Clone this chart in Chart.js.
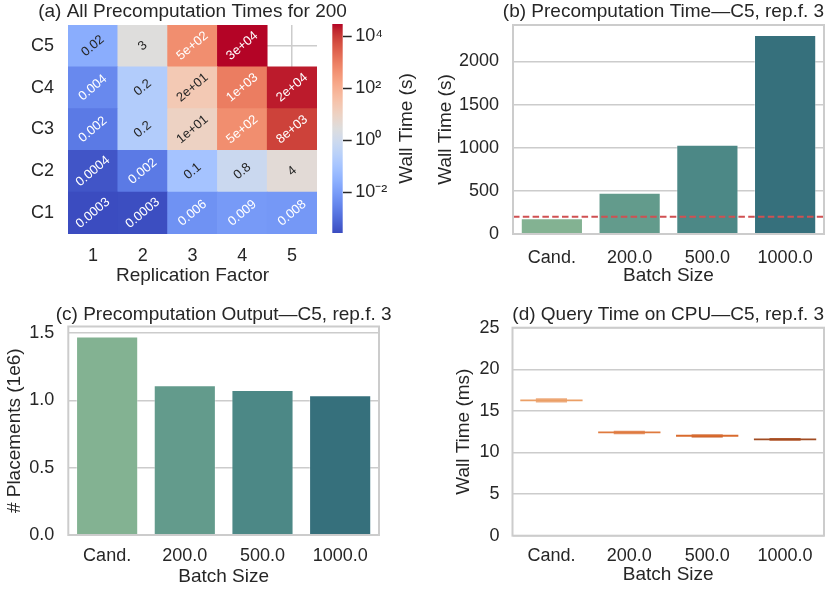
<!DOCTYPE html>
<html>
<head>
<meta charset="utf-8">
<title>Precomputation and query times</title>
<script src="https://cdn.jsdelivr.net/npm/chart.js@4.4.1/dist/chart.umd.min.js"></script>
<style>
  html, body { margin: 0; padding: 0; background: #fff; }
  #wrap { position: relative; width: 835px; height: 590px; overflow: hidden; }
  #wrap canvas { position: absolute; }
</style>
</head>
<body>
<div id="wrap">
  <canvas id="heat" width="360" height="290" style="left:0px;top:0px"></canvas>
  <canvas id="cbar" width="110" height="290" style="left:325px;top:0px"></canvas>
  <canvas id="precompTime" width="415" height="290" style="left:420px;top:0px"></canvas>
  <canvas id="precompOut" width="420" height="300" style="left:0px;top:290px"></canvas>
  <canvas id="queryTime" width="415" height="300" style="left:420px;top:290px"></canvas>
</div>
<script>
// (a) wall time in seconds, one row per config, one column per replication factor
const repFactors = ['1', '2', '3', '4', '5'];
const configs = ['C1', 'C2', 'C3', 'C4', 'C5'];
const timesC1 = [0.00028, 0.0003, 0.006, 0.009, 0.008];
const timesC2 = [0.0004, 0.002, 0.1, 0.8, 4];
const timesC3 = [0.002, 0.2, 10, 500, 8000];
const timesC4 = [0.004, 0.2, 20, 1000, 20000];
const timesC5 = [0.024, 3, 500, 29000, null];
const heatRows = [timesC1, timesC2, timesC3, timesC4, timesC5];
const cbarTicks = [1e-2, 1, 1e2, 1e4];

// (b)-(d) C5, rep.f. 3
const batchLabels = ['Cand.', '200.0', '500.0', '1000.0'];
const precompTime = [182, 478, 1035, 2308];
const precompLimit = 200;
const placements = [1.476, 1.113, 1.078, 1.038];
const queryLow = [16.02, 12.2, 11.8, 11.4];
const queryQ1 = [16.16, 12.31, 11.9, 11.46];
const queryQ3 = [16.38, 12.53, 12.12, 11.68];
const queryHigh = [16.52, 12.62, 12.15, 11.74];

// styles
const FONT = "'Liberation Sans', Arial, Helvetica, sans-serif";
const TXT = '#262626';
const GRID = '#cccccc';
const barColors = ['#83b292', '#639b8c', '#4c8886', '#36707c'];
const boxColors = ['#eb9f66', '#df7a3e', '#d96b2e', '#a14c23'];
const capColors = ['#eeae82', '#e4956a', '#c45a26', '#c0693f'];
const limitRed = '#d05052';

// coolwarm control points
const coolwarm = [
    [59, 76, 192], [68, 90, 204], [77, 104, 215], [87, 117, 225], [98, 130, 234],
    [108, 142, 241], [119, 154, 247], [130, 165, 251], [141, 176, 254], [152, 185, 255],
    [163, 194, 255], [174, 201, 253], [184, 208, 249], [194, 213, 244], [204, 217, 238],
    [213, 219, 230], [221, 221, 221], [229, 216, 209], [236, 211, 197], [241, 204, 185],
    [245, 196, 173], [247, 187, 160], [247, 177, 148], [247, 166, 135], [244, 154, 123],
    [241, 141, 111], [236, 127, 99], [229, 112, 88], [222, 96, 77], [213, 80, 66],
    [203, 62, 56], [192, 40, 47], [180, 4, 38]
];

Chart.defaults.font.family = FONT;
Chart.defaults.color = TXT;
Chart.defaults.animation = false;
Chart.defaults.responsive = false;
Chart.defaults.devicePixelRatio = 1;
Chart.defaults.plugins.legend.display = false;
Chart.defaults.plugins.tooltip.enabled = false;

// log colour scale from the data range
const allTimes = heatRows.flat().filter(v => v != null);
const vmin = Math.min(...allTimes);
const vmax = Math.max(...allTimes);
const lmin = Math.log10(vmin), lmax = Math.log10(vmax);

function cmap(t) {
    t = Math.max(0, Math.min(1, t));
    const pos = t * (coolwarm.length - 1);
    const i = Math.min(Math.floor(pos), coolwarm.length - 2);
    const f = pos - i;
    return coolwarm[i].map((c, k) => Math.round(c + (coolwarm[i + 1][k] - c) * f));
}
const rgbStr = c => `rgb(${c[0]},${c[1]},${c[2]})`;
const heatRGB = v => cmap((Math.log10(v) - lmin) / (lmax - lmin));

function luminance(c) {
    const lin = c.map(x => {
        x /= 255;
        return x <= 0.03928 ? x / 12.92 : Math.pow((x + 0.055) / 1.055, 2.4);
    });
    return 0.2126 * lin[0] + 0.7152 * lin[1] + 0.0722 * lin[2];
}

// like python '.1g'
function fmtG1(v) {
    const r = Number(v.toPrecision(1));
    const e = Math.floor(Math.log10(r) + 1e-12);
    if (e < -4 || e >= 1) {
        const m = Math.round(r / Math.pow(10, e));
        return m + 'e' + (e < 0 ? '-' : '+') + String(Math.abs(e)).padStart(2, '0');
    }
    return String(r);
}

const SUP = {'-': '\u207b', '0': '\u2070', '1': '\u00b9', '2': '\u00b2', '3': '\u00b3', '4': '\u2074',
    '5': '\u2075', '6': '\u2076', '7': '\u2077', '8': '\u2078', '9': '\u2079'};
const pow10Label = v => '10' + String(Math.round(Math.log10(v))).split('').map(ch => SUP[ch]).join('');

const fixWidth = w => scale => { scale.width = w; };
const fixHeight = h => scale => { scale.height = h; };

// plugins
const panelTitle = {
    id: 'panelTitle',
    afterDraw(chart, args, opts) {
        if (!opts.text) return;
        const {ctx, chartArea} = chart;
        ctx.save();
        ctx.font = '19px ' + FONT;
        ctx.fillStyle = TXT;
        ctx.textAlign = 'center';
        ctx.textBaseline = 'middle';
        ctx.fillText(opts.text, (chartArea.left + chartArea.right) / 2 + (opts.dx || 0), opts.y);
        ctx.restore();
    }
};

const frame = {
    id: 'frame',
    afterDatasetsDraw(chart) {
        const {ctx, chartArea: a} = chart;
        ctx.save();
        ctx.strokeStyle = GRID;
        ctx.lineWidth = 2;
        ctx.strokeRect(a.left, a.top, a.right - a.left, a.bottom - a.top);
        ctx.restore();
    }
};

const cellText = {
    id: 'cellText',
    afterDatasetsDraw(chart) {
        const {ctx} = chart;
        ctx.save();
        ctx.font = '13px ' + FONT;
        ctx.textAlign = 'center';
        ctx.textBaseline = 'middle';
        heatRows.forEach((row, r) => {
            chart.getDatasetMeta(r).data.forEach((bar, c) => {
                const v = row[c];
                if (v == null) return;
                const p = bar.getProps(['x', 'y', 'base'], true);
                ctx.save();
                ctx.translate(p.x, (p.y + p.base) / 2);
                ctx.rotate(-40 * Math.PI / 180);
                ctx.fillStyle = luminance(heatRGB(v)) > 0.408 ? TXT : '#ffffff';
                ctx.fillText(fmtG1(v), 0, 0);
                ctx.restore();
            });
        });
        ctx.restore();
    }
};

const cbarLabel = {
    id: 'cbarLabel',
    afterDraw(chart, args, opts) {
        const {ctx, chartArea: a} = chart;
        ctx.save();
        ctx.font = '19px ' + FONT;
        ctx.fillStyle = TXT;
        ctx.textAlign = 'center';
        ctx.textBaseline = 'middle';
        ctx.translate(opts.x, (a.top + a.bottom) / 2);
        ctx.rotate(-Math.PI / 2);
        ctx.fillText(opts.text, 0, 0);
        ctx.restore();
    }
};

function catAxis(height, tickPad, titlePad, text) {
    return {
        afterFit: fixHeight(height),
        grid: { display: false, drawTicks: false },
        border: { display: false },
        ticks: { padding: tickPad, font: { size: 18 }, maxRotation: 0, autoSkip: false },
        title: { display: true, text: text, font: { size: 19 }, padding: { top: 0, bottom: titlePad } }
    };
}

function valueAxis(width, tickPad, titlePad, text, max, step, fmt) {
    return {
        min: 0,
        max: max,
        afterFit: fixWidth(width),
        afterBuildTicks: scale => {
            const ticks = [];
            for (let v = 0; v <= max + 1e-9; v += step) ticks.push({ value: v });
            scale.ticks = ticks;
        },
        ticks: { padding: tickPad, font: { size: 18 }, callback: fmt },
        grid: { color: GRID, lineWidth: 1.5, drawTicks: false },
        border: { display: false },
        title: { display: true, text: text, font: { size: 19 }, padding: { top: titlePad, bottom: 0 } }
    };
}

// (a) heatmap
new Chart(document.getElementById('heat'), {
    type: 'bar',
    data: {
        labels: repFactors,
        datasets: heatRows.map((row, r) => ({
            label: configs[r],
            data: row.map(v => v == null ? null : [r, r + 1]),
            backgroundColor: row.map(v => v == null ? 'rgba(0,0,0,0)' : rgbStr(heatRGB(v))),
            barPercentage: 1,
            categoryPercentage: 1,
            grouped: false,
            borderWidth: 0
        }))
    },
    options: {
        layout: { padding: { left: 0, top: 25, right: 43, bottom: 0 } },
        scales: {
            x: {
                afterFit: fixHeight(56),
                grid: { color: GRID, lineWidth: 1.5, offset: false, drawTicks: false },
                border: { display: false },
                ticks: { padding: 11.5, font: { size: 18 } },
                title: { display: true, text: 'Replication Factor', font: { size: 19 }, padding: { top: 0, bottom: 2.8 } }
            },
            y: {
                min: 0,
                max: configs.length,
                afterFit: fixWidth(68),
                afterBuildTicks: scale => { scale.ticks = configs.map((_, i) => ({ value: i + 0.5 })); },
                ticks: { padding: 14, font: { size: 18 }, callback: v => configs[Math.floor(v)] },
                grid: { color: GRID, lineWidth: 1.5, drawTicks: false },
                border: { display: false }
            }
        },
        plugins: { panelTitle: { text: '(a) All Precomputation Times for 200', y: 11.5 } }
    },
    plugins: [panelTitle, cellText]
});

// (a) colour bar
new Chart(document.getElementById('cbar'), {
    type: 'bar',
    data: {
        labels: [''],
        datasets: [{
            data: [[vmin, vmax]],
            backgroundColor: ctx => {
                const a = ctx.chart.chartArea;
                if (!a) return rgbStr(coolwarm[16]);
                const g = ctx.chart.ctx.createLinearGradient(0, a.bottom, 0, a.top);
                coolwarm.forEach((c, i) => g.addColorStop(i / (coolwarm.length - 1), rgbStr(c)));
                return g;
            },
            barPercentage: 1,
            categoryPercentage: 1,
            borderWidth: 0
        }]
    },
    options: {
        layout: { padding: { left: 7.3, top: 24, right: 0, bottom: 57 } },
        scales: {
            x: { display: false },
            y: {
                type: 'logarithmic',
                position: 'right',
                min: vmin,
                max: vmax,
                afterFit: fixWidth(92.3),
                afterBuildTicks: scale => { scale.ticks = cbarTicks.map(v => ({ value: v })); },
                ticks: { padding: 3.5, font: { size: 18 }, callback: v => pow10Label(v) },
                grid: { drawOnChartArea: false, drawTicks: true, tickLength: 9, tickColor: TXT, tickWidth: 1.5 },
                border: { display: false }
            }
        },
        plugins: { cbarLabel: { text: 'Wall Time (s)', x: 81.5 } }
    },
    plugins: [cbarLabel]
});

// (b) precomputation time
new Chart(document.getElementById('precompTime'), {
    type: 'bar',
    data: {
        labels: batchLabels,
        datasets: [
            {
                type: 'line',
                xAxisID: 'xLine',
                data: [{ x: 0, y: precompLimit }, { x: 1, y: precompLimit }],
                borderColor: limitRed,
                borderWidth: 2,
                borderDash: [6.5, 3.3],
                pointRadius: 0
            },
            {
                data: precompTime,
                backgroundColor: barColors,
                borderColor: 'rgba(255,255,255,0.35)',
                borderWidth: 1,
                barPercentage: 0.8,
                categoryPercentage: 1,
                grouped: false
            }
        ]
    },
    options: {
        layout: { padding: { left: 0, top: 25, right: 11, bottom: 0 } },
        scales: {
            x: catAxis(56, 13, 3.2, 'Batch Size'),
            xLine: { type: 'linear', display: false, offset: false, min: 0, max: 1 },
            y: valueAxis(93, 14, 13.9, 'Wall Time (s)', Math.max(...precompTime) * 1.05, 500)
        },
        plugins: { panelTitle: { text: '(b) Precomputation Time\u2014C5, rep.f. 3', y: 11.5, dx: -5 } }
    },
    plugins: [panelTitle, frame]
});

// (c) precomputation output
new Chart(document.getElementById('precompOut'), {
    type: 'bar',
    data: {
        labels: batchLabels,
        datasets: [{
            data: placements,
            backgroundColor: barColors,
            borderColor: 'rgba(255,255,255,0.35)',
            borderWidth: 1,
            barPercentage: 0.8,
            categoryPercentage: 1
        }]
    },
    options: {
        layout: { padding: { left: 0, top: 36.5, right: 41, bottom: 0 } },
        scales: {
            x: catAxis(55, 10.7, 1.9, 'Batch Size'),
            y: valueAxis(68.3, 14, 3.1, '# Placements (1e6)', Math.max(...placements) * 1.05, 0.5, v => v.toFixed(1))
        },
        plugins: { panelTitle: { text: '(c) Precomputation Output\u2014C5, rep.f. 3', y: 24.3 } }
    },
    plugins: [panelTitle, frame]
});

// (d) query time, box plots
new Chart(document.getElementById('queryTime'), {
    type: 'bar',
    data: {
        labels: batchLabels,
        datasets: [
            {
                data: queryQ1.map((q, i) => [q, queryQ3[i]]),
                backgroundColor: boxColors,
                barPercentage: 0.8,
                categoryPercentage: 1,
                grouped: false,
                borderWidth: 0
            },
            {
                data: queryLow.map((lo, i) => [lo, queryHigh[i]]),
                backgroundColor: capColors,
                barPercentage: 0.4,
                categoryPercentage: 1,
                grouped: false,
                borderWidth: 0
            }
        ]
    },
    options: {
        layout: { padding: { left: 0, top: 37.7, right: 11, bottom: 0 } },
        scales: {
            x: catAxis(54.3, 10, 3.6, 'Batch Size'),
            y: valueAxis(92.5, 13, 32.8, 'Wall Time (ms)', 25, 5)
        },
        plugins: { panelTitle: { text: '(d) Query Time on CPU\u2014C5, rep.f. 3', y: 24.3 } }
    },
    plugins: [panelTitle, frame]
});
</script>
</body>
</html>
